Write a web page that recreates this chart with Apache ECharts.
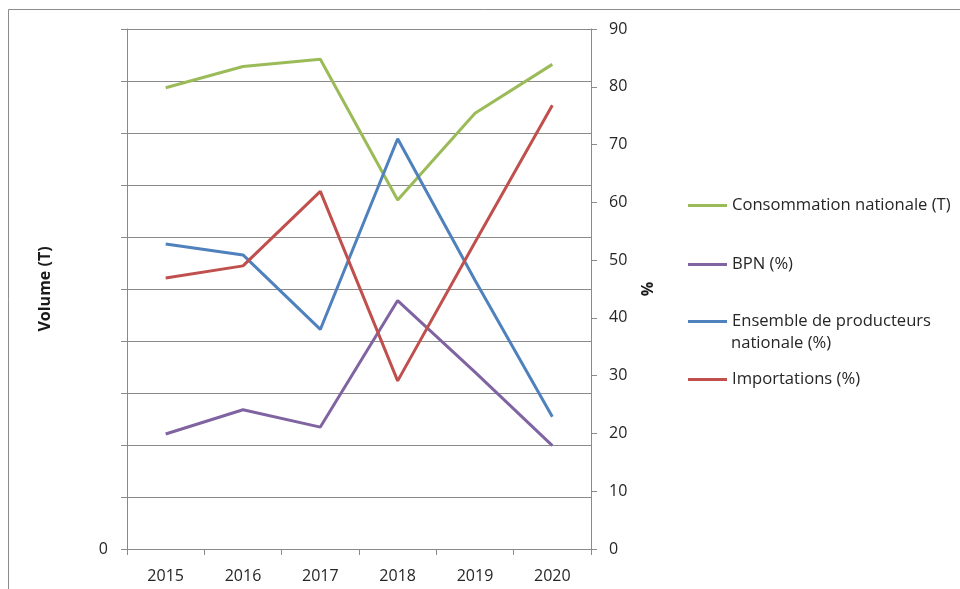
<!DOCTYPE html>
<html>
<head>
<meta charset="utf-8">
<script src="https://cdn.jsdelivr.net/npm/echarts@6/dist/echarts.min.js"></script>
<style>
html,body{margin:0;padding:0;background:#fff;}
#chart{width:960px;height:589px;}
</style>
</head>
<body>
<div id="chart"></div>
<script>
const years = ['2015','2016','2017','2018','2019','2020'];
const consommation = [8.87, 9.28, 9.42, 6.71, 8.38, 9.32];
const bpn = [19.9, 24.1, 21.1, 43.0, 30.6, 17.9];
const ensemble = [52.8, 50.9, 38.0, 71.0, 46.5, 22.9];
const importations = [46.9, 49.0, 61.9, 29.1, 53.1, 76.8];
const names = ['Consommation nationale (T)', 'BPN (%)', 'Ensemble de producteurs nationale (%)', 'Importations (%)'];
const colors = ['#9BBB59', '#8064A2', '#4F81BD', '#C0504D'];

const FONT = '"Open Sans", sans-serif';
const TXT = '#262626';
const GRID = '#8a8a8a';

const chart = echarts.init(document.getElementById('chart'), null, {renderer: 'canvas'});

function legendAt(name, top) {
  return {
    data: [name],
    left: 688,
    top: top,
    orient: 'vertical',
    icon: 'rect',
    itemWidth: 39,
    itemHeight: 3,
    padding: 0,
    selectedMode: false,
    textStyle: {fontFamily: FONT, fontSize: 16.6, color: TXT},
    formatter: function (n) { return n === names[2] ? 'Ensemble de producteurs' : n; }
  };
}

chart.setOption({
  animation: false,
  backgroundColor: '#fff',
  color: colors,
  grid: {left: 127, right: 369, top: 29, bottom: 40, containLabel: false},
  legend: [
    legendAt(names[0], 197),
    legendAt(names[1], 256),
    legendAt(names[2], 313),
    legendAt(names[3], 371)
  ],
  graphic: [
    {type: 'rect', silent: true, shape: {x: 8.5, y: 9.5, width: 1200, height: 1200},
     style: {fill: 'none', stroke: '#8c8c8c', lineWidth: 1}},
    {type: 'text', left: 731, top: 335, silent: true,
     style: {text: 'nationale (%)', font: '16.6px ' + FONT, fill: TXT}}
  ],
  xAxis: {
    type: 'category',
    data: years,
    boundaryGap: true,
    axisLine: {show: true, lineStyle: {color: GRID, width: 1}},
    axisTick: {show: true, length: 6, lineStyle: {color: GRID}},
    axisLabel: {fontFamily: FONT, fontSize: 16, color: TXT, margin: 19},
    splitLine: {show: false}
  },
  yAxis: [
    {
      type: 'value', min: 0, max: 10, interval: 1, position: 'left',
      name: 'Volume (T)', nameLocation: 'middle', nameRotate: 90, nameGap: 74,
      nameTextStyle: {fontFamily: FONT, fontSize: 16, fontWeight: 'bold', color: '#1a1a1a'},
      axisLine: {show: true, lineStyle: {color: GRID}},
      axisTick: {show: true, length: 6, lineStyle: {color: GRID}},
      axisLabel: {fontFamily: FONT, fontSize: 16, color: TXT, margin: 19,
        formatter: function (v) { return v === 0 ? '0' : ''; }},
      splitLine: {show: true, lineStyle: {color: GRID, width: 1}}
    },
    {
      type: 'value', min: 0, max: 90, interval: 10, position: 'right',
      name: '%', nameLocation: 'middle', nameRotate: 90, nameGap: 49,
      nameTextStyle: {fontFamily: FONT, fontSize: 16, fontWeight: 'bold', color: '#1a1a1a'},
      axisLine: {show: true, lineStyle: {color: GRID}},
      axisTick: {show: true, length: 6, lineStyle: {color: GRID}},
      axisLabel: {fontFamily: FONT, fontSize: 16, color: TXT, margin: 18},
      splitLine: {show: false}
    }
  ],
  series: [
    {name: names[0], type: 'line', yAxisIndex: 0, data: consommation, showSymbol: false, symbol: 'none',
     lineStyle: {width: 3, color: colors[0]}, itemStyle: {color: colors[0]}},
    {name: names[1], type: 'line', yAxisIndex: 1, data: bpn, showSymbol: false, symbol: 'none',
     lineStyle: {width: 3, color: colors[1]}, itemStyle: {color: colors[1]}},
    {name: names[2], type: 'line', yAxisIndex: 1, data: ensemble, showSymbol: false, symbol: 'none',
     lineStyle: {width: 3, color: colors[2]}, itemStyle: {color: colors[2]}},
    {name: names[3], type: 'line', yAxisIndex: 1, data: importations, showSymbol: false, symbol: 'none',
     lineStyle: {width: 3, color: colors[3]}, itemStyle: {color: colors[3]}}
  ]
});
</script>
</body>
</html>
